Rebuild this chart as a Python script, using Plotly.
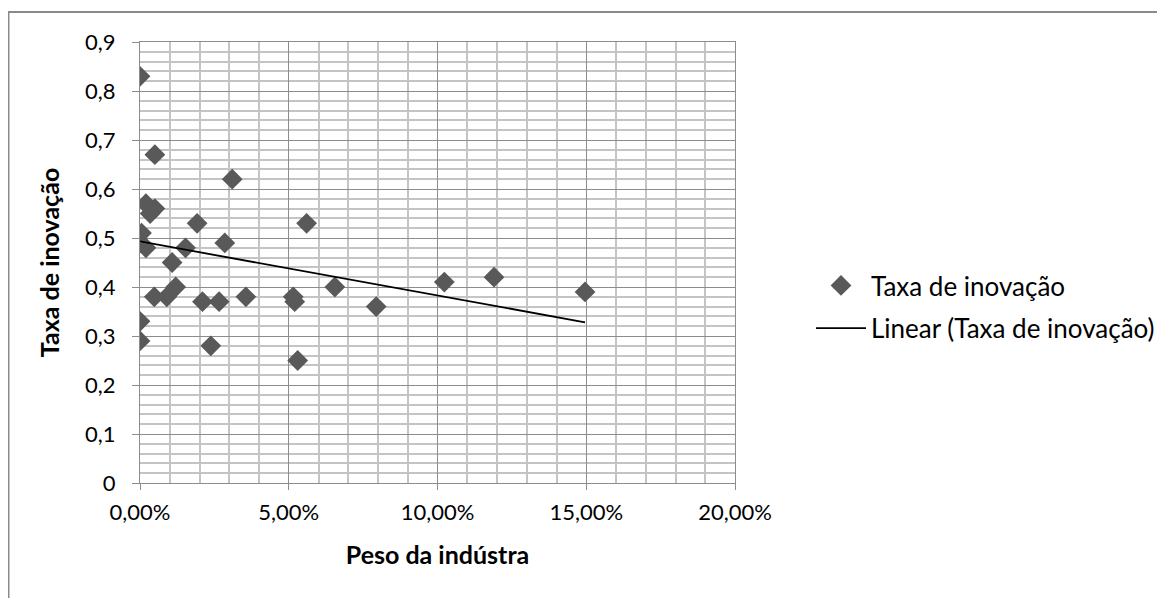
import plotly.graph_objects as go

# Data (x = industry weight as fraction, y = innovation rate)
peso_industria = [0.0000, 0.0050, 0.0310, 0.0020, 0.0050, 0.0034, 0.0192, 0.0560, 0.0005, 0.0285,
                  0.0020, 0.0153, 0.0108, 0.0048, 0.0090, 0.0120, 0.0210, 0.0266, 0.0356, 0.0000,
                  0.0000, 0.0238, 0.0515, 0.0520, 0.0530, 0.0655, 0.0794, 0.1023, 0.1190, 0.1496]
taxa_inovacao = [0.83, 0.67, 0.62, 0.57, 0.56, 0.55, 0.53, 0.53, 0.51, 0.49,
                 0.48, 0.48, 0.45, 0.38, 0.38, 0.40, 0.37, 0.37, 0.38, 0.33,
                 0.29, 0.28, 0.38, 0.37, 0.25, 0.40, 0.36, 0.41, 0.42, 0.39]

# Excel linear trendline
tendencia_intercepto = 0.493
tendencia_inclinacao = -1.103

serie_nome = "Taxa de inovação"
tendencia_nome = "Linear (Taxa de inovação)"
x_titulo = "Peso da indústra"
y_titulo = "Taxa de inovação"

xt = [min(peso_industria), max(peso_industria)]
yt = [tendencia_intercepto + tendencia_inclinacao * v for v in xt]

FONT = "Lato"
fig = go.Figure()
fig.add_trace(go.Scatter(
    x=peso_industria, y=taxa_inovacao, mode="markers", name=serie_nome, legendgroup="a",
    marker=dict(symbol="diamond", size=16, color="#595959", line=dict(width=0)),
))
fig.add_trace(go.Scatter(
    x=xt, y=yt, mode="lines", name=tendencia_nome, legendgroup="b",
    line=dict(color="black", width=1.8),
))

# page body has an 8px margin: work in screen pixels and convert
OFF = 8
W, H = 1165 - OFF, 598 - OFF
L, R, T, B = 140 - OFF, 1165 - 735, 42 - OFF, 598 - 483
pw, ph = W - L - R, H - T - B

def sx(px):  # screen x -> paper
    return (px - OFF - L) / pw

def sy(py):  # screen y -> paper
    return (H - B - (py - OFF)) / ph

fig.update_layout(
    width=W, height=H,
    margin=dict(l=L, r=R, t=T, b=B, autoexpand=False),
    paper_bgcolor="white", plot_bgcolor="white",
    separators=",.",
    font=dict(family=FONT, size=22, color="black"),
    showlegend=True,
    legend=dict(x=sx(811), y=sy(262), xanchor="left", yanchor="top", itemwidth=50,
                font=dict(size=26), bgcolor="rgba(0,0,0,0)", tracegroupgap=6),
    xaxis=dict(
        range=[0, 0.2], dtick=0.05, tickformat=".2%",
        showgrid=True, gridcolor="#8c8c8c", gridwidth=1,
        minor=dict(dtick=0.01, showgrid=True, gridcolor="#c4c4c4", gridwidth=2),
        showline=True, linecolor="#8c8c8c", linewidth=1, mirror=True,
        ticks="outside", ticklen=6, tickcolor="#8c8c8c", ticklabelstandoff=4,
        zeroline=False,
        title=dict(text="<b>" + x_titulo + "</b>", font=dict(size=25), standoff=22),
    ),
    yaxis=dict(
        range=[0, 0.9], dtick=0.1,
        showgrid=True, gridcolor="#8c8c8c", gridwidth=1,
        minor=dict(dtick=0.02, showgrid=True, gridcolor="#c4c4c4", gridwidth=2),
        showline=True, linecolor="#8c8c8c", linewidth=1, mirror=True,
        ticks="outside", ticklen=7, tickcolor="#8c8c8c", ticklabelstandoff=12,
        zeroline=False,
        title=dict(text="<b>" + y_titulo + "</b>", font=dict(size=25), standoff=18),
    ),
    shapes=[dict(type="rect", xref="paper", yref="paper",
                 x0=sx(8.5), x1=sx(1164), y0=sy(640), y1=sy(12),
                 line=dict(color="#8a8a8a", width=2), fillcolor="rgba(0,0,0,0)", layer="below")],
)

fig.write_html("out.html")
